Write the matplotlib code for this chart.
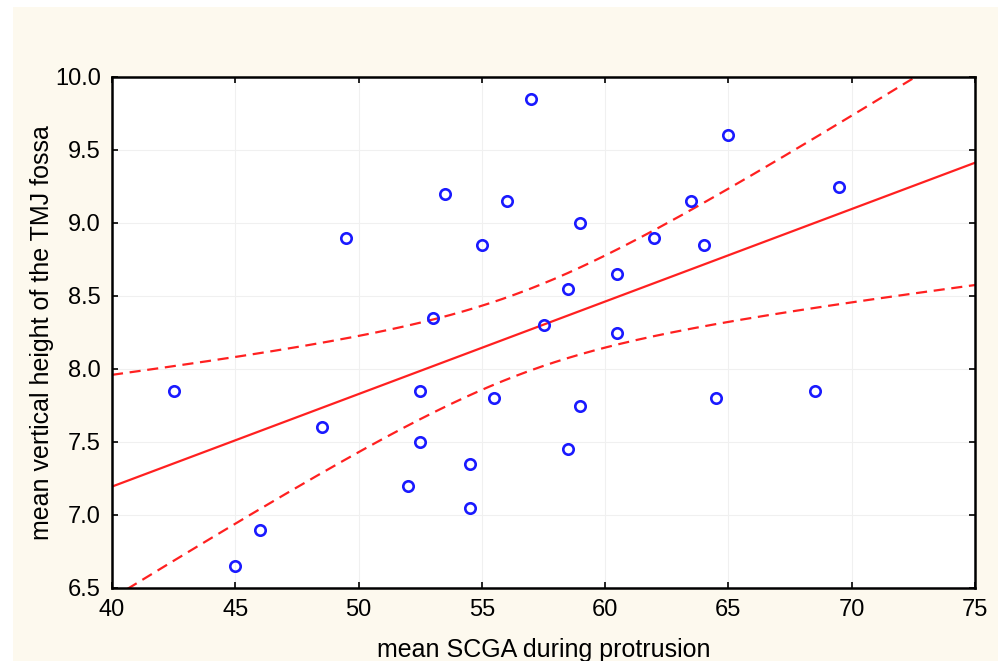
import numpy as np
import matplotlib.pyplot as plt
from matplotlib.patches import Rectangle

plt.rcParams['font.family'] = ['Liberation Sans', 'DejaVu Sans']

# mean SCGA during protrusion
scga = [42.5, 45.0, 46.0, 48.5, 49.5, 52.0, 52.5, 52.5, 53.0, 53.5,
        54.5, 54.5, 55.0, 55.5, 56.0, 57.0, 57.5, 58.5, 58.5, 59.0,
        59.0, 60.5, 60.5, 62.0, 63.5, 64.0, 64.5, 65.0, 68.5, 69.5]
# mean vertical height of the TMJ fossa
height = [7.85, 6.65, 6.90, 7.60, 8.90, 7.20, 7.85, 7.50, 8.35, 9.20,
          7.35, 7.05, 8.85, 7.80, 9.15, 9.85, 8.30, 8.55, 7.45, 9.00,
          7.75, 8.65, 8.25, 8.90, 9.15, 8.85, 7.80, 9.60, 7.85, 9.25]

xticks = [40, 45, 50, 55, 60, 65, 70, 75]
yticks = [6.5, 7.0, 7.5, 8.0, 8.5, 9.0, 9.5, 10.0]

x = np.array(scga)
y = np.array(height)
n = len(x)
b, a = np.polyfit(x, y, 1)
resid = y - (a + b * x)
s = np.sqrt(np.sum(resid ** 2) / (n - 2))
t = 2.048  # t(0.975, 28)
xs = np.linspace(40, 75, 200)
fit = a + b * xs
se = s * np.sqrt(1 / n + (xs - x.mean()) ** 2 / np.sum((x - x.mean()) ** 2))

fig = plt.figure(figsize=(9.98, 6.61), dpi=100, facecolor='white')
fig.patches.append(Rectangle((13 / 998, 0), 1, 1 - 7 / 661, transform=fig.transFigure,
                             facecolor='#fdf9ee', edgecolor='none', zorder=-10))
ax = fig.add_axes([112 / 998, 1 - 588 / 661, 863 / 998, 511 / 661])
ax.set_facecolor('white')

ax.plot(xs, fit, color='#ff2020', lw=1.6)
ax.plot(xs, fit + t * se, color='#ff2020', lw=1.6, dashes=(5, 3))
ax.plot(xs, fit - t * se, color='#ff2020', lw=1.6, dashes=(5, 3))
ax.plot(x, y, 'o', mfc='none', mec='#1a1aff', ms=7.5, mew=1.9)

ax.set_xlim(40, 75)
ax.set_ylim(6.5, 10.0)
ax.set_xticks(xticks)
ax.set_yticks(yticks)
ax.set_yticklabels([f'{v:.1f}' for v in yticks])
ax.grid(True, color='#f0f0f0', lw=0.8)
ax.tick_params(direction='in', length=4, width=1.2, labelsize=17, top=True, right=True,
               colors='black', pad=8)
for sp in ax.spines.values():
    sp.set_linewidth(1.8)

ax.set_xlabel('mean SCGA during protrusion', fontsize=18, labelpad=12)
ax.set_ylabel('mean vertical height of the TMJ fossa', fontsize=18, labelpad=1)

fig.savefig('out.png', dpi=100, facecolor=fig.get_facecolor())
